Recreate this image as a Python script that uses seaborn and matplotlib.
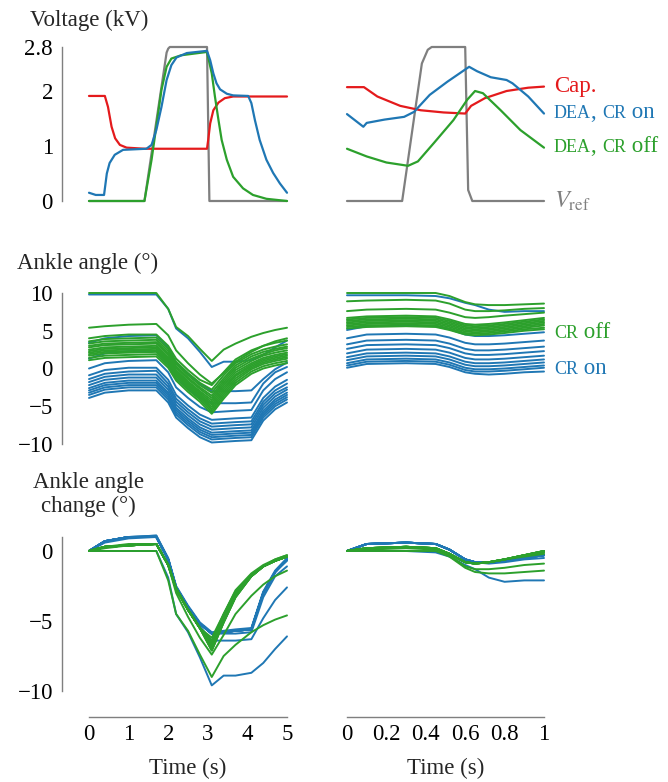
import matplotlib
matplotlib.use("Agg")
import matplotlib.pyplot as plt
import matplotlib.ticker as mticker
import numpy as np
import pandas as pd
import seaborn as sns

sns.set_style("white")
plt.rcParams["font.family"] = ["Liberation Serif", "DejaVu Serif"]
plt.rcParams["mathtext.fontset"] = "stix"
plt.rcParams["axes.unicode_minus"] = True

BLUE = "#1f77b4"
GREEN = "#2ca02c"
RED = "#e41a1c"
GREY = "#7f7f7f"
FS = 16.5
SC = 13  # "small caps" size

# ---------------- voltage, 0-5 s ----------------
t_vref_l = [0, 1.40, 1.96, 2.0, 2.04, 2.98, 3.04, 5.0]
v_vref_l = [0, 0, 2.7, 2.77, 2.8, 2.8, 0, 0]
t_cap_l = [0, 0.40, 0.48, 0.57, 0.66, 0.78, 0.95, 1.41, 2.98, 3.01, 3.06, 3.14, 3.27, 3.43, 3.64, 5.0]
v_cap_l = [1.91, 1.91, 1.71, 1.35, 1.14, 1.02, 0.97, 0.95, 0.95, 1.11, 1.41, 1.65, 1.79, 1.87, 1.9, 1.9]
t_on_l = [0, 0.17, 0.38, 0.45, 0.52, 0.65, 0.86, 1.45, 1.58, 1.7, 1.83, 1.96, 2.08, 2.21, 2.47, 2.98,
          3.06, 3.14, 3.22, 3.31, 3.48, 3.64, 4.02, 4.1, 4.19, 4.31, 4.48, 4.65, 4.82, 5.0]
v_on_l = [0.15, 0.11, 0.11, 0.5, 0.69, 0.84, 0.93, 0.95, 1.02, 1.29, 1.71, 2.2, 2.47, 2.61, 2.69, 2.73,
          2.56, 2.32, 2.14, 2.03, 1.95, 1.92, 1.91, 1.78, 1.47, 1.11, 0.75, 0.51, 0.32, 0.15]
t_off_l = [0, 1.40, 1.58, 1.71, 1.83, 1.96, 2.08, 2.33, 2.98, 3.1, 3.18, 3.27, 3.35, 3.48, 3.64, 3.89,
           4.14, 4.48, 5.0]
v_off_l = [0, 0, 0.75, 1.41, 2.02, 2.44, 2.59, 2.65, 2.71, 2.32, 1.9, 1.47, 1.11, 0.75, 0.44, 0.23,
           0.11, 0.04, 0.0]

# ---------------- voltage, 0-1 s ----------------
t_vref_r = [0, 0.28, 0.38, 0.41, 0.43, 0.6, 0.615, 0.636, 1.0]
v_vref_r = [0, 0, 2.5, 2.75, 2.8, 2.8, 0.2, 0, 0]
t_cap_r = [0, 0.086, 0.154, 0.27, 0.374, 0.49, 0.6, 0.63, 0.7, 0.81, 0.92, 1.0]
v_cap_r = [2.07, 2.07, 1.9, 1.73, 1.65, 1.61, 1.59, 1.73, 1.87, 2.0, 2.06, 2.08]
t_on_r = [0, 0.083, 0.1, 0.19, 0.29, 0.34, 0.42, 0.51, 0.62, 0.66, 0.73, 0.81, 0.84, 0.92, 1.0]
v_on_r = [1.58, 1.35, 1.42, 1.48, 1.53, 1.62, 1.93, 2.17, 2.44, 2.36, 2.25, 2.2, 2.14, 1.9, 1.59]
t_off_r = [0, 0.1, 0.2, 0.31, 0.36, 0.44, 0.54, 0.61, 0.65, 0.69, 0.78, 0.88, 1.0]
v_off_r = [0.95, 0.81, 0.7, 0.64, 0.72, 1.05, 1.47, 1.84, 2.0, 1.96, 1.65, 1.29, 0.97]

# ---------------- ankle angle, 0-5 s ----------------
t_ang_l = [0, 0.4, 1.0, 1.7, 2.0, 2.2, 2.5, 2.8, 3.1, 3.4, 3.7, 4.1, 4.4, 4.7, 5.0]
ang_on_l = [
    [9.8, 9.8, 9.8, 9.8, 7.9, 5.3, 4.0, 2.2, 0.2, 0.9, 0.9, 1.1, 1.8, 2.8, 3.7],
    [3.4, 4.0, 4.3, 4.4, 2.8, 0.7, -0.7, -2.0, -3.0, -3.0, -3.0, -2.9, -1.4, -0.1, 0.8],
    [1.3, 2.0, 2.3, 2.3, 0.7, -1.3, -2.7, -3.9, -4.6, -4.6, -4.6, -4.5, -2.0, -0.5, 0.2],
    [0.0, 0.7, 1.0, 1.1, -0.5, -2.5, -3.9, -5.1, -5.8, -5.7, -5.6, -5.5, -2.9, -1.4, -0.5],
    [-0.9, -0.2, 0.1, 0.1, -1.5, -3.5, -4.9, -6.1, -6.8, -6.7, -6.6, -6.5, -3.9, -2.4, -1.5],
    [-1.4, -0.7, -0.4, -0.3, -2.0, -4.0, -5.4, -6.6, -7.3, -7.2, -7.1, -7.0, -4.4, -2.9, -2.0],
    [-1.8, -1.1, -0.8, -0.8, -2.4, -4.4, -5.8, -7.0, -7.7, -7.6, -7.5, -7.4, -4.8, -3.3, -2.5],
    [-2.2, -1.5, -1.2, -1.2, -2.8, -4.8, -6.2, -7.4, -8.1, -8.0, -7.9, -7.8, -5.2, -3.7, -2.8],
    [-2.6, -1.9, -1.6, -1.6, -3.2, -5.2, -6.6, -7.8, -8.5, -8.4, -8.3, -8.2, -5.6, -4.1, -3.2],
    [-2.9, -2.2, -1.9, -1.9, -3.5, -5.5, -6.9, -8.1, -8.8, -8.7, -8.6, -8.5, -5.9, -4.4, -3.5],
    [-3.2, -2.5, -2.2, -2.2, -3.8, -5.8, -7.2, -8.4, -9.1, -9.0, -8.9, -8.8, -6.2, -4.7, -3.8],
    [-3.5, -2.8, -2.5, -2.5, -4.1, -6.1, -7.5, -8.7, -9.4, -9.3, -9.2, -9.1, -6.5, -5.0, -4.1],
    [-3.9, -3.2, -2.9, -2.9, -4.5, -6.5, -7.9, -9.1, -9.8, -9.7, -9.6, -9.5, -6.9, -5.4, -4.5],
]
ang_off_l = [
    [10.0, 10.0, 10.0, 10.0, 7.9, 5.5, 4.3, 2.6, 1.0, 2.5, 3.3, 4.2, 4.7, 5.1, 5.4],
    [5.4, 5.6, 5.8, 5.9, 4.4, 2.4, 0.7, -0.8, -2.0, -0.6, 0.9, 2.2, 3.0, 3.6, 4.0],
    [4.0, 4.3, 4.5, 4.5, 3.0, 1.3, -0.2, -1.5, -2.2, -0.5, 1.2, 2.4, 3.0, 3.4, 3.7],
    [3.6, 3.9, 4.0, 4.1, 2.6, 0.9, -0.6, -1.9, -2.8, -0.9, 0.7, 1.9, 2.5, 2.9, 3.2],
    [3.3, 3.6, 3.7, 3.8, 2.3, 0.6, -0.9, -2.2, -3.2, -1.3, 0.4, 1.6, 2.2, 2.6, 2.9],
    [3.0, 3.3, 3.4, 3.5, 2.0, 0.3, -1.2, -2.5, -3.6, -1.6, 0.1, 1.3, 1.9, 2.4, 2.7],
    [2.8, 3.1, 3.2, 3.3, 1.8, 0.1, -1.4, -2.7, -3.9, -1.9, -0.2, 1.0, 1.7, 2.1, 2.4],
    [2.5, 2.8, 2.9, 3.0, 1.5, -0.2, -1.7, -3.0, -4.2, -2.2, -0.5, 0.7, 1.4, 1.8, 2.1],
    [2.3, 2.6, 2.7, 2.8, 1.3, -0.4, -1.9, -3.2, -4.5, -2.5, -0.8, 0.5, 1.2, 1.6, 1.9],
    [2.1, 2.4, 2.5, 2.6, 1.1, -0.6, -2.1, -3.4, -4.8, -2.8, -1.0, 0.3, 1.0, 1.4, 1.7],
    [1.9, 2.2, 2.3, 2.4, 0.9, -0.8, -2.3, -3.6, -5.1, -3.1, -1.3, 0.1, 0.8, 1.2, 1.5],
    [1.7, 2.0, 2.1, 2.2, 0.7, -1.0, -2.5, -3.8, -5.4, -3.4, -1.6, -0.1, 0.6, 1.0, 1.3],
    [1.4, 1.7, 1.8, 1.9, 0.4, -1.3, -2.8, -4.1, -5.7, -3.7, -1.9, -0.4, 0.3, 0.7, 1.0],
    [1.1, 1.4, 1.5, 1.6, 0.1, -1.6, -3.1, -4.4, -6.0, -4.0, -2.2, -0.7, 0.0, 0.4, 0.7],
]

# ---------------- ankle angle, 0-1 s ----------------
t_ang_r = [0, 0.1, 0.3, 0.45, 0.52, 0.6, 0.65, 0.72, 0.8, 0.9, 1.0]
ang_on_r = [
    [9.7, 9.7, 9.7, 9.6, 9.3, 8.7, 8.4, 7.8, 7.5, 7.6, 7.6],
    [5.1, 5.6, 5.7, 5.6, 5.2, 4.5, 4.3, 4.3, 4.4, 4.6, 4.8],
    [4.0, 4.5, 4.6, 4.5, 4.1, 3.4, 3.2, 3.2, 3.3, 3.5, 3.7],
    [3.2, 3.7, 3.8, 3.7, 3.3, 2.6, 2.4, 2.4, 2.5, 2.7, 2.9],
    [2.6, 3.1, 3.2, 3.1, 2.7, 2.0, 1.8, 1.8, 1.9, 2.1, 2.3],
    [2.0, 2.5, 2.6, 2.5, 2.1, 1.4, 1.2, 1.2, 1.3, 1.5, 1.7],
    [1.5, 2.0, 2.1, 2.0, 1.6, 0.9, 0.7, 0.7, 0.8, 1.0, 1.2],
    [1.1, 1.6, 1.7, 1.6, 1.2, 0.5, 0.3, 0.3, 0.4, 0.6, 0.8],
    [0.7, 1.2, 1.3, 1.2, 0.8, 0.1, -0.1, -0.1, 0.0, 0.2, 0.4],
    [0.4, 0.9, 1.0, 0.9, 0.5, -0.2, -0.4, -0.4, -0.3, -0.1, 0.1],
    [0.1, 0.6, 0.7, 0.6, 0.2, -0.5, -0.7, -0.8, -0.7, -0.5, -0.4],
]
ang_off_r = [
    [10.0, 10.0, 10.0, 10.0, 9.6, 8.8, 8.5, 8.4, 8.4, 8.5, 8.6],
    [8.9, 9.0, 9.1, 9.0, 8.6, 7.8, 7.6, 7.6, 7.7, 7.9, 8.0],
    [7.6, 7.8, 7.9, 7.8, 7.4, 6.8, 6.7, 6.8, 7.0, 7.2, 7.4],
    [6.7, 6.9, 7.0, 6.9, 6.5, 5.9, 5.8, 5.9, 6.1, 6.4, 6.7],
    [6.5, 6.7, 6.8, 6.7, 6.3, 5.7, 5.6, 5.7, 5.9, 6.2, 6.5],
    [6.3, 6.5, 6.6, 6.5, 6.1, 5.5, 5.4, 5.5, 5.7, 6.0, 6.3],
    [6.1, 6.3, 6.4, 6.3, 5.9, 5.3, 5.2, 5.3, 5.5, 5.8, 6.1],
    [5.9, 6.1, 6.2, 6.1, 5.7, 5.1, 5.0, 5.1, 5.3, 5.6, 5.9],
    [5.7, 5.9, 6.0, 5.9, 5.5, 4.9, 4.8, 4.9, 5.1, 5.4, 5.7],
    [5.5, 5.7, 5.8, 5.7, 5.3, 4.7, 4.6, 4.7, 4.9, 5.2, 5.4],
    [5.3, 5.5, 5.6, 5.5, 5.1, 4.5, 4.4, 4.5, 4.7, 5.0, 5.2],
]


def long_frame(times, traces, relative=False):
    rows = []
    for k, tr in enumerate(traces):
        base = tr[0] if relative else 0.0
        for t, v in zip(times, tr):
            rows.append((t, v - base, k))
    return pd.DataFrame(rows, columns=["t", "v", "trace"])


def draw_bundle(ax, times, traces, color, relative=False):
    df = long_frame(times, traces, relative)
    sns.lineplot(data=df, x="t", y="v", units="trace", estimator=None, color=color,
                 lw=1.4, legend=False, ax=ax, clip_on=False)


def draw_line(ax, t, v, color):
    sns.lineplot(x=t, y=v, color=color, lw=1.6, ax=ax, clip_on=False)


def fmt(x, _):
    return f"{x:g}".replace("-", "\u2212")


def style(ax, xlim, ylim, yticks=None, xticks=None):
    ax.set_xlim(*xlim)
    ax.set_ylim(*ylim)
    ax.set_xlabel("")
    ax.set_ylabel("")
    for s in ["top", "right"]:
        ax.spines[s].set_visible(False)
    for s in ["left", "bottom"]:
        ax.spines[s].set_color(GREY)
        ax.spines[s].set_linewidth(1.0)
    ax.spines["left"].set_position(("outward", 19.5))
    ax.spines["bottom"].set_position(("outward", 19))
    if yticks is None:
        ax.spines["left"].set_visible(False)
        ax.set_yticks([])
    else:
        ax.set_yticks(yticks)
        ax.yaxis.set_major_formatter(mticker.FuncFormatter(fmt))
    if xticks is None:
        ax.spines["bottom"].set_visible(False)
        ax.set_xticks([])
    else:
        ax.set_xticks(xticks)
        ax.xaxis.set_major_formatter(mticker.FuncFormatter(fmt))
        ax.set_xlabel("Time (s)", fontsize=FS, labelpad=9)
    ax.tick_params(direction="in", length=5, width=0.9, color=GREY,
                   labelsize=FS, labelcolor="black")
    ax.tick_params(axis="y", pad=6.5)
    ax.tick_params(axis="x", pad=5)
    ax.patch.set_alpha(0)


def sc_label(ax, y, parts, color):
    # parts: (text, is_small_caps)
    first, small = parts[0]
    prev = ax.annotate(first, xy=(1, y), xycoords=("axes fraction", "data"),
                       xytext=(7.2, 0), textcoords="offset points", va="center",
                       ha="left", color=color, fontsize=SC if small else FS,
                       annotation_clip=False)
    prev_small = small
    for text, small in parts[1:]:
        dy = 0.0
        if small and not prev_small:
            dy = 0.216 * (FS - SC)
        elif prev_small and not small:
            dy = -0.216 * (FS - SC)
        prev = ax.annotate(text, xy=(1, 0), xycoords=prev, xytext=(0, dy),
                           textcoords="offset points", va="bottom", ha="left",
                           color=color, fontsize=SC if small else FS,
                           annotation_clip=False)
        prev_small = small


W, H = 668, 782
fig = plt.figure(figsize=(W / 100, H / 100), dpi=100)

lx, lw_ = 89 / W, 198 / W
rx, rw_ = 347 / W, 197 / W
rows = [(1 - 201 / H, 154 / H), (1 - 444 / H, 151 / H), (1 - 691 / H, 154 / H)]

axes = [[fig.add_axes([lx, b, lw_, h]), fig.add_axes([rx, b, rw_, h])] for b, h in rows]

# row 1: voltage
a, b = axes[0]
draw_line(a, t_vref_l, v_vref_l, GREY)
draw_line(a, t_cap_l, v_cap_l, RED)
draw_line(a, t_off_l, v_off_l, GREEN)
draw_line(a, t_on_l, v_on_l, BLUE)
style(a, (0, 5), (0, 2.8), yticks=[0, 1, 2, 2.8])
draw_line(b, t_vref_r, v_vref_r, GREY)
draw_line(b, t_cap_r, v_cap_r, RED)
draw_line(b, t_off_r, v_off_r, GREEN)
draw_line(b, t_on_r, v_on_r, BLUE)
style(b, (0, 1), (0, 2.8))
b.annotate("Cap.", xy=(1, v_cap_r[-1]), xytext=(7.2, 0), textcoords="offset points",
           va="center", color=RED, fontsize=FS, annotation_clip=False)
sc_label(b, v_on_r[-1], [("DEA", True), (", ", False), ("CR", True), (" on", False)], BLUE)
sc_label(b, v_off_r[-1], [("DEA", True), (", ", False), ("CR", True), (" off", False)], GREEN)
b.annotate(r"$V_{\mathrm{ref}}$", xy=(1, 0), xytext=(7.2, 0), textcoords="offset points",
           va="center", color=GREY, fontsize=FS + 1, annotation_clip=False)

# row 2: ankle angle
a, b = axes[1]
draw_bundle(a, t_ang_l, ang_on_l, BLUE)
draw_bundle(a, t_ang_l, ang_off_l, GREEN)
style(a, (0, 5), (-10, 10), yticks=[-10, -5, 0, 5, 10])
draw_bundle(b, t_ang_r, ang_on_r, BLUE)
draw_bundle(b, t_ang_r, ang_off_r, GREEN)
style(b, (0, 1), (-10, 10))
sc_label(b, 4.7, [("CR", True), (" off", False)], GREEN)
sc_label(b, -0.1, [("CR", True), (" on", False)], BLUE)

# row 3: ankle angle change
a, b = axes[2]
draw_bundle(a, t_ang_l, ang_on_l, BLUE, relative=True)
draw_bundle(a, t_ang_l, ang_off_l, GREEN, relative=True)
style(a, (0, 5), (-10, 1), yticks=[-10, -5, 0], xticks=[0, 1, 2, 3, 4, 5])
draw_bundle(b, t_ang_r, ang_on_r, BLUE, relative=True)
draw_bundle(b, t_ang_r, ang_off_r, GREEN, relative=True)
style(b, (0, 1), (-10, 1), xticks=[0, 0.2, 0.4, 0.6, 0.8, 1.0])

fig.text(89 / W, 1 - 26 / H, "Voltage (kV)", ha="center", va="baseline", fontsize=FS)
fig.text(88 / W, 1 - 269 / H, "Ankle angle (\u00b0)", ha="center", va="baseline", fontsize=FS)
fig.text(88 / W, 1 - 488 / H, "Ankle angle", ha="center", va="baseline", fontsize=FS)
fig.text(88 / W, 1 - 512 / H, "change (\u00b0)", ha="center", va="baseline", fontsize=FS)

fig.savefig("out.png", dpi=100)
